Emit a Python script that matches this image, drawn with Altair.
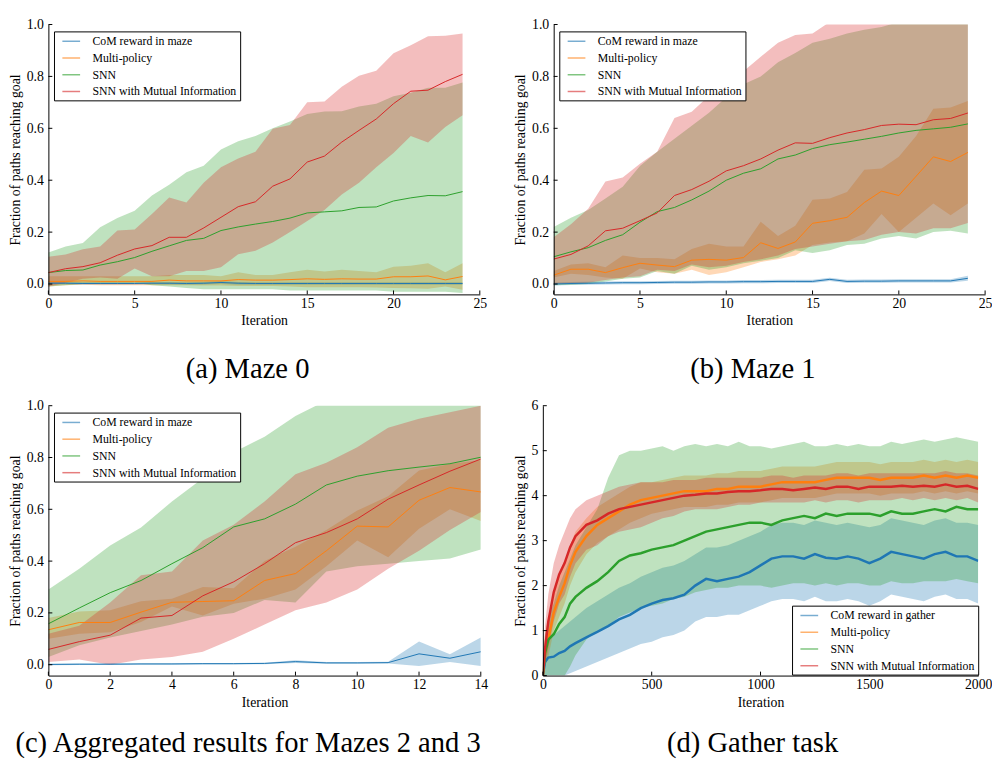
import altair as alt
import pandas as pd

FONT = "Liberation Serif"
COLORS = ["#1f77b4", "#ff7f0e", "#2ca02c", "#d62728"]
NAMES_MAZE = ["CoM reward in maze", "Multi-policy", "SNN", "SNN with Mutual Information"]
NAMES_GATHER = ["CoM reward in gather", "Multi-policy", "SNN", "SNN with Mutual Information"]
Y_TITLE = "Fraction of paths reaching goal"
X_TITLE = "Iteration"

# ---------------- (a) Maze 0 ----------------
a_iter = list(range(25))
a_com_mean = [0.003, 0.003, 0.002, 0.002, 0.002, 0.002, 0.003, 0.003, 0.002, 0.003, 0.006, 0.003, 0.002, 0.002, 0.002, 0.002, 0.002, 0.002, 0.002, 0.002, 0.002, 0.002, 0.002, 0.002, 0.002]
a_com_lo = [-0.002, -0.002, -0.003, -0.003, -0.003, -0.003, -0.002, -0.002, -0.003, -0.002, 0.0, -0.003, -0.003, -0.003, -0.003, -0.003, -0.003, -0.003, -0.003, -0.003, -0.003, -0.003, -0.003, -0.003, -0.003]
a_com_hi = [0.008, 0.008, 0.007, 0.007, 0.007, 0.007, 0.008, 0.008, 0.007, 0.008, 0.012, 0.008, 0.007, 0.007, 0.007, 0.007, 0.007, 0.007, 0.007, 0.007, 0.007, 0.007, 0.007, 0.007, 0.007]
a_mp_mean = [0.01, 0.01, 0.012, 0.01, 0.01, 0.01, 0.01, 0.015, 0.012, 0.012, 0.012, 0.017, 0.015, 0.015, 0.017, 0.02, 0.018, 0.02, 0.019, 0.019, 0.028, 0.028, 0.031, 0.016, 0.029]
a_mp_lo = [-0.01, -0.005, -0.003, -0.005, -0.005, -0.005, -0.005, -0.005, -0.005, -0.006, -0.006, -0.008, -0.008, -0.008, -0.01, -0.012, -0.012, -0.012, -0.012, -0.013, -0.015, -0.016, -0.018, -0.01, -0.022]
a_mp_hi = [0.03, 0.03, 0.03, 0.03, 0.03, 0.03, 0.03, 0.035, 0.035, 0.035, 0.03, 0.045, 0.035, 0.035, 0.045, 0.055, 0.048, 0.055, 0.05, 0.045, 0.067, 0.07, 0.08, 0.045, 0.08]
a_snn_mean = [0.044, 0.052, 0.054, 0.073, 0.086, 0.102, 0.126, 0.147, 0.168, 0.176, 0.206, 0.22, 0.231, 0.241, 0.254, 0.274, 0.278, 0.282, 0.295, 0.297, 0.32, 0.332, 0.341, 0.34, 0.356]
a_snn_lo = [-0.01, -0.005, 0.0, 0.0, 0.0, 0.005, -0.005, -0.01, -0.015, -0.02, -0.02, -0.02, -0.02, -0.02, -0.025, -0.025, -0.025, -0.025, -0.025, -0.025, -0.03, -0.03, -0.03, -0.03, -0.035]
a_snn_hi = [0.121, 0.145, 0.158, 0.219, 0.254, 0.282, 0.341, 0.383, 0.431, 0.456, 0.518, 0.55, 0.57, 0.6, 0.626, 0.655, 0.665, 0.666, 0.684, 0.695, 0.724, 0.737, 0.756, 0.756, 0.777]
a_mi_mean = [0.044, 0.059, 0.067, 0.082, 0.111, 0.135, 0.148, 0.18, 0.18, 0.216, 0.257, 0.298, 0.317, 0.377, 0.405, 0.47, 0.493, 0.547, 0.592, 0.636, 0.695, 0.743, 0.747, 0.78, 0.808]
a_mi_lo = [-0.01, 0.005, 0.02, 0.025, 0.02, 0.06, 0.03, 0.03, 0.05, 0.05, 0.065, 0.115, 0.128, 0.16, 0.2, 0.243, 0.285, 0.345, 0.39, 0.45, 0.505, 0.57, 0.545, 0.605, 0.65]
a_mi_hi = [0.105, 0.114, 0.134, 0.145, 0.206, 0.21, 0.27, 0.333, 0.314, 0.39, 0.45, 0.484, 0.51, 0.598, 0.613, 0.70, 0.703, 0.76, 0.803, 0.822, 0.889, 0.92, 0.955, 0.957, 0.965]

# ---------------- (b) Maze 1 ----------------
b_iter = list(range(25))
b_com_mean = [0.0, 0.002, 0.003, 0.004, 0.005, 0.005, 0.006, 0.007, 0.007, 0.008, 0.008, 0.009, 0.009, 0.01, 0.01, 0.01, 0.018, 0.01, 0.011, 0.011, 0.012, 0.012, 0.012, 0.012, 0.022]
b_com_lo = [-0.006, -0.004, -0.003, -0.002, -0.001, -0.001, 0.0, 0.001, 0.001, 0.002, 0.002, 0.003, 0.003, 0.004, 0.004, 0.004, 0.012, 0.004, 0.005, 0.005, 0.006, 0.006, 0.006, 0.006, 0.013]
b_com_hi = [0.006, 0.008, 0.009, 0.01, 0.011, 0.011, 0.012, 0.013, 0.013, 0.014, 0.014, 0.015, 0.015, 0.016, 0.016, 0.016, 0.024, 0.016, 0.017, 0.017, 0.018, 0.018, 0.018, 0.018, 0.032]
b_mp_mean = [0.034, 0.057, 0.057, 0.044, 0.063, 0.08, 0.073, 0.067, 0.092, 0.095, 0.092, 0.102, 0.159, 0.137, 0.162, 0.234, 0.244, 0.257, 0.314, 0.358, 0.341, 0.415, 0.49, 0.472, 0.507]
b_mp_lo = [0.025, 0.04, 0.035, 0.025, 0.02, 0.06, 0.045, 0.04, 0.055, 0.035, 0.045, 0.065, 0.085, 0.095, 0.11, 0.15, 0.16, 0.165, 0.195, 0.27, 0.2, 0.255, 0.31, 0.265, 0.31]
b_mp_hi = [0.05, 0.075, 0.08, 0.065, 0.11, 0.1, 0.1, 0.095, 0.135, 0.155, 0.145, 0.145, 0.24, 0.185, 0.225, 0.325, 0.33, 0.355, 0.44, 0.445, 0.49, 0.57, 0.675, 0.68, 0.705]
b_snn_mean = [0.105, 0.124, 0.14, 0.168, 0.19, 0.238, 0.279, 0.295, 0.324, 0.358, 0.4, 0.427, 0.444, 0.482, 0.497, 0.522, 0.537, 0.547, 0.558, 0.569, 0.582, 0.592, 0.598, 0.604, 0.617]
b_snn_lo = [-0.005, -0.003, 0.0, 0.01, 0.02, 0.025, 0.05, 0.04, 0.07, 0.055, 0.065, 0.08, 0.09, 0.1, 0.13, 0.12, 0.13, 0.15, 0.155, 0.175, 0.185, 0.175, 0.2, 0.205, 0.195]
b_snn_hi = [0.22, 0.255, 0.285, 0.33, 0.375, 0.455, 0.51, 0.56, 0.61, 0.66, 0.72, 0.77, 0.8, 0.855, 0.89, 0.93, 0.945, 0.965, 0.98, 0.99, 1.01, 1.02, 1.03, 1.04, 1.05]
b_mi_mean = [0.096, 0.114, 0.147, 0.205, 0.215, 0.244, 0.274, 0.341, 0.364, 0.396, 0.436, 0.456, 0.482, 0.516, 0.544, 0.542, 0.564, 0.582, 0.595, 0.611, 0.616, 0.614, 0.633, 0.638, 0.659]
b_mi_lo = [0.0, 0.0, 0.005, 0.015, 0.025, 0.03, 0.055, 0.05, 0.075, 0.065, 0.07, 0.085, 0.095, 0.11, 0.135, 0.145, 0.155, 0.165, 0.17, 0.19, 0.2, 0.195, 0.215, 0.215, 0.235]
b_mi_hi = [0.18, 0.23, 0.29, 0.395, 0.41, 0.463, 0.51, 0.64, 0.664, 0.725, 0.78, 0.82, 0.876, 0.93, 0.96, 0.965, 1.01, 1.03, 1.05, 1.07, 1.08, 1.09, 1.1, 1.1, 1.1]

# ---------------- (c) Mazes 2 and 3 ----------------
c_iter = list(range(15))
c_com_mean = [0.001, 0.002, 0.002, 0.003, 0.003, 0.004, 0.004, 0.005, 0.012, 0.007, 0.007, 0.008, 0.042, 0.025, 0.05]
c_com_lo = [-0.002, -0.001, -0.001, 0.0, 0.0, 0.001, 0.001, 0.002, 0.007, 0.004, 0.004, 0.005, -0.005, 0.01, -0.005]
c_com_hi = [0.004, 0.005, 0.005, 0.006, 0.006, 0.007, 0.007, 0.008, 0.017, 0.01, 0.01, 0.011, 0.09, 0.04, 0.105]
c_mp_mean = [0.135, 0.163, 0.163, 0.203, 0.241, 0.244, 0.247, 0.325, 0.352, 0.44, 0.535, 0.532, 0.635, 0.684, 0.667]
c_mp_lo = [0.1, 0.12, 0.125, 0.165, 0.225, 0.19, 0.235, 0.255, 0.29, 0.38, 0.48, 0.415, 0.525, 0.6, 0.555]
c_mp_hi = [0.18, 0.205, 0.21, 0.245, 0.255, 0.3, 0.295, 0.4, 0.455, 0.52, 0.595, 0.65, 0.75, 0.775, 0.79]
c_snn_mean = [0.158, 0.219, 0.278, 0.325, 0.39, 0.452, 0.532, 0.563, 0.62, 0.694, 0.728, 0.749, 0.763, 0.776, 0.801]
c_snn_lo = [0.03, 0.075, 0.105, 0.13, 0.155, 0.185, 0.2, 0.25, 0.24, 0.36, 0.38, 0.39, 0.4, 0.41, 0.445]
c_snn_hi = [0.29, 0.37, 0.46, 0.53, 0.63, 0.72, 0.82, 0.88, 0.96, 1.02, 1.05, 1.07, 1.08, 1.09, 1.1]
c_mi_mean = [0.059, 0.089, 0.114, 0.18, 0.19, 0.266, 0.32, 0.39, 0.471, 0.51, 0.563, 0.639, 0.694, 0.747, 0.794]
c_mi_lo = [0.01, 0.02, 0.0, 0.02, 0.03, 0.05, 0.1, 0.155, 0.21, 0.24, 0.29, 0.37, 0.44, 0.52, 0.59]
c_mi_hi = [0.12, 0.15, 0.24, 0.345, 0.36, 0.48, 0.54, 0.63, 0.735, 0.78, 0.84, 0.915, 0.95, 0.975, 1.0]

# ---------------- (d) Gather task ----------------
d_iter = [0, 10, 25, 50, 75, 100, 125, 150, 200, 250, 300, 350, 400, 450, 500, 550, 600, 650, 700, 750,
          800, 850, 900, 950, 1000, 1050, 1100, 1150, 1200, 1250, 1300, 1350, 1400, 1450, 1500, 1550,
          1600, 1650, 1700, 1750, 1800, 1850, 1900, 1950, 2000]
d_com_mean = [0.0, 0.3, 0.4, 0.42, 0.5, 0.55, 0.65, 0.72, 0.85, 0.97, 1.1, 1.25, 1.35, 1.5, 1.6, 1.68, 1.72, 1.8, 2.0, 2.15,
              2.1, 2.15, 2.2, 2.3, 2.45, 2.6, 2.65, 2.65, 2.6, 2.7, 2.62, 2.6, 2.65, 2.6, 2.5, 2.6,
              2.75, 2.7, 2.65, 2.6, 2.7, 2.75, 2.65, 2.65, 2.55]
d_com_lo = [0.0, 0.0, 0.0, 0.0, 0.0, 0.0, 0.05, 0.1, 0.2, 0.3, 0.4, 0.5, 0.6, 0.7, 0.75, 0.85, 0.9, 1.0, 1.2, 1.3,
            1.3, 1.35, 1.35, 1.45, 1.55, 1.65, 1.7, 1.7, 1.65, 1.75, 1.65, 1.65, 1.7, 1.65, 1.55, 1.65,
            1.8, 1.75, 1.7, 1.65, 1.75, 1.8, 1.7, 1.7, 1.6]
d_com_hi = [0.05, 0.6, 0.8, 0.9, 1.0, 1.1, 1.2, 1.3, 1.5, 1.65, 1.8, 1.95, 2.05, 2.2, 2.3, 2.4, 2.45, 2.55, 2.7, 2.85,
            2.85, 2.9, 3.0, 3.1, 3.2, 3.35, 3.4, 3.4, 3.35, 3.45, 3.4, 3.35, 3.4, 3.35, 3.3, 3.35,
            3.5, 3.45, 3.4, 3.35, 3.45, 3.5, 3.4, 3.4, 3.35]
d_mp_mean = [0.0, 0.5, 0.8, 1.4, 1.75, 2.05, 2.45, 2.75, 3.1, 3.35, 3.5, 3.65, 3.8, 3.9, 3.95, 4.0, 4.05, 4.1, 4.1, 4.1,
             4.15, 4.15, 4.2, 4.2, 4.2, 4.25, 4.3, 4.3, 4.3, 4.3, 4.35, 4.4, 4.4, 4.4, 4.4, 4.35,
             4.4, 4.4, 4.4, 4.45, 4.4, 4.45, 4.4, 4.45, 4.4]
d_mp_lo = [0.0, 0.2, 0.4, 1.0, 1.3, 1.6, 2.0, 2.3, 2.7, 2.95, 3.1, 3.25, 3.4, 3.5, 3.6, 3.65, 3.7, 3.75, 3.75, 3.75,
           3.8, 3.8, 3.85, 3.85, 3.85, 3.9, 3.95, 3.95, 3.95, 3.95, 4.0, 4.05, 4.05, 4.05, 4.05, 4.0,
           4.05, 4.05, 4.05, 4.1, 4.05, 4.1, 4.05, 4.1, 4.05]
d_mp_hi = [0.1, 0.9, 1.2, 1.8, 2.2, 2.5, 2.9, 3.2, 3.5, 3.75, 3.9, 4.05, 4.2, 4.3, 4.3, 4.35, 4.4, 4.45, 4.45, 4.45,
           4.5, 4.5, 4.55, 4.55, 4.55, 4.6, 4.65, 4.65, 4.65, 4.65, 4.7, 4.75, 4.75, 4.75, 4.75, 4.7,
           4.75, 4.75, 4.75, 4.8, 4.75, 4.8, 4.75, 4.8, 4.75]
d_snn_mean = [0.0, 0.5, 0.8, 0.92, 1.15, 1.3, 1.6, 1.75, 1.95, 2.1, 2.3, 2.55, 2.67, 2.72, 2.8, 2.85, 2.9, 3.0, 3.1, 3.2,
              3.25, 3.3, 3.35, 3.4, 3.4, 3.35, 3.45, 3.5, 3.55, 3.5, 3.6, 3.55, 3.6, 3.6, 3.6, 3.55,
              3.65, 3.6, 3.6, 3.65, 3.7, 3.65, 3.75, 3.7, 3.7]
d_snn_lo = [0.0, 0.0, 0.0, 0.0, 0.0, 0.0, 0.2, 0.45, 0.8, 1.0, 1.1, 1.3, 1.4, 1.5, 1.55, 1.6, 1.7, 1.75, 1.85, 1.9,
            1.95, 1.95, 2.0, 2.0, 2.0, 1.95, 2.0, 2.05, 2.05, 2.0, 2.05, 2.0, 2.05, 2.05, 2.0, 2.0,
            2.1, 2.05, 2.05, 2.1, 2.1, 2.1, 2.15, 2.1, 2.05]
d_snn_hi = [0.1, 0.9, 1.3, 1.6, 2.0, 2.3, 2.6, 2.9, 3.3, 3.7, 4.4, 4.9, 5.0, 5.0, 5.05, 5.1, 5.0, 5.1, 5.15, 5.1,
            5.15, 5.1, 5.2, 5.1, 5.1, 5.05, 5.1, 5.15, 5.2, 5.1, 5.1, 5.15, 5.1, 5.15, 5.1, 5.1,
            5.2, 5.15, 5.2, 5.25, 5.2, 5.25, 5.3, 5.25, 5.2]
d_mi_mean = [0.0, 0.6, 1.2, 1.85, 2.25, 2.5, 2.85, 3.1, 3.35, 3.45, 3.6, 3.7, 3.75, 3.8, 3.85, 3.9, 3.95, 4.0, 4.02, 4.05,
             4.05, 4.08, 4.1, 4.1, 4.12, 4.15, 4.15, 4.12, 4.15, 4.18, 4.15, 4.2, 4.2, 4.15, 4.2, 4.2,
             4.2, 4.22, 4.2, 4.22, 4.2, 4.25, 4.2, 4.22, 4.15]
d_mi_lo = [0.0, 0.2, 0.6, 1.2, 1.6, 1.8, 2.2, 2.5, 2.8, 2.9, 3.1, 3.2, 3.25, 3.3, 3.4, 3.5, 3.55, 3.65, 3.7, 3.7,
           3.7, 3.75, 3.8, 3.8, 3.85, 3.85, 3.85, 3.85, 3.85, 3.9, 3.85, 3.9, 3.9, 3.85, 3.9, 3.9,
           3.9, 3.95, 3.9, 3.95, 3.9, 3.95, 3.9, 3.95, 3.85]
d_mi_hi = [0.1, 1.1, 1.8, 2.5, 2.9, 3.2, 3.5, 3.7, 3.9, 4.0, 4.1, 4.2, 4.25, 4.3, 4.3, 4.3, 4.35, 4.35, 4.35, 4.4,
           4.4, 4.4, 4.4, 4.4, 4.4, 4.45, 4.45, 4.4, 4.45, 4.45, 4.45, 4.5, 4.5, 4.45, 4.5, 4.5,
           4.5, 4.5, 4.5, 4.5, 4.5, 4.55, 4.5, 4.5, 4.45]

MAZE_Y_TICKS = [0.0, 0.2, 0.4, 0.6, 0.8, 1.0]
A_X_TICKS = [0, 5, 10, 15, 20, 25]
C_X_TICKS = [0, 2, 4, 6, 8, 10, 12, 14]
D_X_TICKS = [0, 500, 1000, 1500, 2000]
D_Y_TICKS = [0, 1, 2, 3, 4, 5, 6]


def build_df(x, names, means, los, his):
    rows = []
    for name, m, lo, hi in zip(names, means, los, his):
        for xi, mi, l, h in zip(x, m, lo, hi):
            rows.append({"it": xi, "series": name, "mean": mi, "lo": l, "hi": h})
    return pd.DataFrame(rows)


def panel(df, names, xdom, xvals, ydom, yvals, yfmt, w, h, legx, legy, sw, caption, cap_offset):
    xs = alt.Scale(domain=xdom, nice=False, zero=False)
    ys = alt.Scale(domain=ydom, nice=False, zero=False)
    cs = alt.Scale(domain=names, range=COLORS)
    xax = alt.Axis(values=xvals, format="d", labelFlush=False, labelBound=False, zindex=1, labelFont=FONT,
                   titleFont=FONT, labelFontSize=14, titleFontSize=14, labelPadding=2)
    yax = alt.Axis(values=yvals, format=yfmt, zindex=1, labelFont=FONT,
                   titleFont=FONT, labelFontSize=14, titleFontSize=14, labelPadding=5)
    layers = []
    for name, col in zip(names, COLORS):
        layers.append(
            alt.Chart(df).transform_filter(alt.datum.series == name)
            .mark_area(opacity=0.3, clip=True, color=col)
            .encode(
                x=alt.X("it:Q", scale=xs, axis=xax, title=X_TITLE),
                y=alt.Y("lo:Q", scale=ys, axis=yax, title=Y_TITLE),
                y2="hi:Q",
            )
        )
    line = alt.Chart(df).mark_line(clip=True, strokeWidth=sw).encode(
        x=alt.X("it:Q", scale=xs, axis=xax, title=X_TITLE),
        y=alt.Y("mean:Q", scale=ys, axis=yax, title=Y_TITLE),
        color=alt.Color(
            "series:N", scale=cs,
            legend=alt.Legend(
                title=None, orient="none", legendX=legx, legendY=legy, direction="vertical",
                strokeColor="black", fillColor="white", padding=3, cornerRadius=0,
                symbolType="M-0.25,0H2.75", symbolSize=144, symbolStrokeWidth=1.5,
                symbolOpacity=0.6, labelFont=FONT, labelFontSize=12, labelColor="black",
                labelOffset=22, rowPadding=4, labelLimit=400,
            ),
        ),
    )
    layers.append(line)
    yt = alt.Chart(pd.DataFrame({"v": yvals})).mark_rule(color="black", strokeWidth=1).encode(
        y=alt.Y("v:Q", scale=ys, axis=yax, title=Y_TITLE), x=alt.value(0), x2=alt.value(4)
    )
    xt = alt.Chart(pd.DataFrame({"v": xvals})).mark_rule(color="black", strokeWidth=1).encode(
        x=alt.X("v:Q", scale=xs, axis=xax, title=X_TITLE), y=alt.value(h), y2=alt.value(h - 4)
    )
    layers += [yt, xt]
    return alt.layer(*layers).properties(
        width=w, height=h,
        title=alt.TitleParams(caption, orient="bottom", font=FONT, fontSize=29, fontWeight="normal",
                              color="black", offset=cap_offset, frame="bounds", anchor="middle"),
    )


df_a = build_df(a_iter, NAMES_MAZE, [a_com_mean, a_mp_mean, a_snn_mean, a_mi_mean],
                [a_com_lo, a_mp_lo, a_snn_lo, a_mi_lo], [a_com_hi, a_mp_hi, a_snn_hi, a_mi_hi])
df_b = build_df(b_iter, NAMES_MAZE, [b_com_mean, b_mp_mean, b_snn_mean, b_mi_mean],
                [b_com_lo, b_mp_lo, b_snn_lo, b_mi_lo], [b_com_hi, b_mp_hi, b_snn_hi, b_mi_hi])
df_c = build_df(c_iter, NAMES_MAZE, [c_com_mean, c_mp_mean, c_snn_mean, c_mi_mean],
                [c_com_lo, c_mp_lo, c_snn_lo, c_mi_lo], [c_com_hi, c_mp_hi, c_snn_hi, c_mi_hi])
df_d = build_df(d_iter, NAMES_GATHER, [d_com_mean, d_mp_mean, d_snn_mean, d_mi_mean],
                [d_com_lo, d_mp_lo, d_snn_lo, d_mi_lo], [d_com_hi, d_mp_hi, d_snn_hi, d_mi_hi])

pa = panel(df_a, NAMES_MAZE, [0, 25], A_X_TICKS, [-0.04, 1.0], MAZE_Y_TICKS, ".1f",
           438, 274, 5.7, 7, 1.0, "(a) Maze 0", 28)
pb = panel(df_b, NAMES_MAZE, [0, 25], A_X_TICKS, [-0.04, 1.0], MAZE_Y_TICKS, ".1f",
           438, 274, 5.7, 7, 1.0, "(b) Maze 1", 28)
pc = panel(df_c, NAMES_MAZE, [0, 14], C_X_TICKS, [-0.042, 1.0], MAZE_Y_TICKS, ".1f",
           439, 274, 5.7, 7, 1.0, "(c) Aggregated results for Mazes 2 and 3", 21)
pd_ = panel(df_d, NAMES_GATHER, [0, 2000], D_X_TICKS, [0, 6], D_Y_TICKS, "d",
            442, 274, 253, 203, 2.5, "(d) Gather task", 21)

row1 = alt.hconcat(pa, pb, spacing=27).resolve_scale(color="independent").resolve_legend(color="independent")
row2 = alt.hconcat(pc, pd_, spacing=26).resolve_scale(color="independent").resolve_legend(color="independent")

chart = (
    alt.vconcat(row1, row2, spacing=15)
    .resolve_scale(color="independent")
    .resolve_legend(color="independent")
    .properties(padding={"left": 0, "top": 4, "right": 0, "bottom": 0})
    .configure_view(stroke=None)
    .configure_axis(
        labelFont=FONT, labelFontSize=14, titleFont=FONT, titleFontSize=14,
        titleFontWeight="normal", labelColor="black", titleColor="black",
        domainColor="black", domainWidth=1, ticks=False, grid=False,
    )
)

chart.save("out.html", embed_options={"renderer": "svg", "actions": False})
